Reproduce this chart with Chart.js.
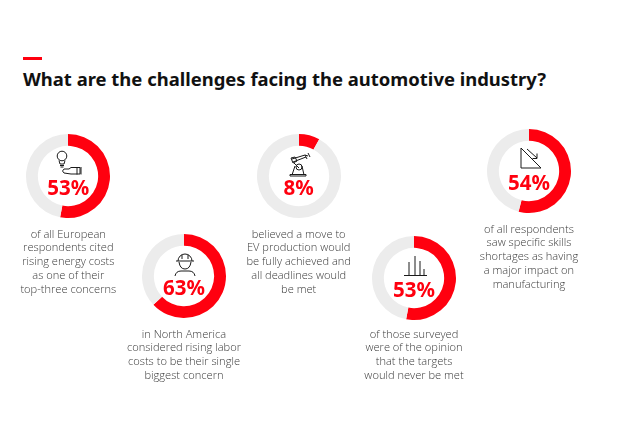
<!DOCTYPE html>
<html><head><meta charset="utf-8">
<script src="https://cdn.jsdelivr.net/npm/chart.js@4"></script>
<style>
html,body{margin:0;padding:0;background:#fff;width:639px;height:424px;overflow:hidden}
#bar{position:absolute;left:23px;top:57px;width:19px;height:3px;background:#ff000f}
#title{position:absolute;left:23px;top:66px;font:700 18.45px/26px "Noto Sans",sans-serif;color:#111;white-space:nowrap}
canvas{position:absolute}
.pct{position:absolute;width:84px;text-align:center;font:700 20.5px/24px "Noto Sans",sans-serif;color:#ff000f}
.cap{position:absolute;width:130px;text-align:center;font:300 11.1px/13.85px "Open Sans",sans-serif;color:#3a3a3a;white-space:nowrap}
svg{position:absolute;fill:none;stroke:#1a1a1a;stroke-width:1;overflow:visible}
</style></head><body>
<div id="bar"></div>
<div id="title">What are the challenges facing the automotive industry?</div>
<svg style="left:50px;top:148px" width="36" height="30"><circle cx="12" cy="8" r="4.8"/><path d="M9 12.5 L10 16 H14 L15 12.5 M10 17.5 H14 M10.5 19 H13.5"/><path d="M14 21 H19 L21 19.5 H30 V26 H21 L14 25 Q11 23 14 21 Z M27 19 V26.5 M31 19 V26.5"/></svg>
<svg style="left:172px;top:250px" width="26" height="28"><path d="M4 11 H22 M6 11 A7 7 0 0 1 20 11 M10 4.6 V9 M16 4.6 V9 M7 12 Q8 19 13 19 Q18 19 19 12 M3 26 Q4 21 9 21 H17 Q22 21 23 26"/></svg>
<svg style="left:288px;top:151px" width="24" height="28"><path d="M4 8 L17 4 L20 5 M5 11 L18 6 M17 4 L19 8 M20 2 L22 6 M3 7 L7 6 L9 10 L5 12 Z M6 12 L11 17 M4 24 L7 15 M14 15 L16 24 M2 25 H18 V23.5 H2 Z"/><circle cx="11" cy="16" r="3"/></svg>
<svg style="left:402px;top:253px" width="28" height="26"><path d="M2 22.5 H25 M13 3 V22 M7 9 V22 M18 8 V22 M22 16 V22" /></svg>
<svg style="left:518px;top:145px" width="28" height="26"><path d="M3 3 V23 H23 Z M9 4 L19 13 M19 8.5 V13.5 H14.5"/></svg>
<script>
const percentages=[53,63,8,53,54];
const remainders=[47,37,92,47,46];
const percentLabels=["53%","63%","8%","53%","54%"];
const captions=[
 ["of all European","respondents cited","rising energy costs","as one of their","top-three concerns"],
 ["in North America","considered rising labor","costs to be their single","biggest concern"],
 ["believed a move to","EV production would","be fully achieved and","all deadlines would","be met"],
 ["of those surveyed","were of the opinion","that the targets","would never be met"],
 ["of all respondents","saw specific skills","shortages as having","a major impact on","manufacturing"]
];
const centers=[[68.3,176],[184,275.7],[298.7,175.7],[414,277.7],[529,170.5]];
const pctY=[187,287,187,289,182];
const capTop=[226.5,326.5,226.5,326.5,221.5];
const SIZE=90;
percentages.forEach((v,i)=>{
  const [cx,cy]=centers[i];
  const c=document.createElement('canvas');
  c.width=SIZE;c.height=SIZE;
  c.style.left=(cx-SIZE/2)+'px';c.style.top=(cy-SIZE/2)+'px';
  c.style.width=SIZE+'px';c.style.height=SIZE+'px';
  document.body.appendChild(c);
  new Chart(c,{type:'doughnut',
    data:{labels:['Share','Rest'],datasets:[{data:[v,remainders[i]],backgroundColor:['#ff000f','#ececec'],borderWidth:0}]},
    options:{responsive:false,animation:false,radius:42,cutout:32.3,rotation:0,
      layout:{padding:0},plugins:{legend:{display:false},tooltip:{enabled:false}}}});
  const p=document.createElement('div');p.className='pct';p.textContent=percentLabels[i];
  p.style.left=(cx-42)+'px';p.style.top=(pctY[i]-12)+'px';document.body.appendChild(p);
  const t=document.createElement('div');t.className='cap';t.innerHTML=captions[i].join('<br>');
  t.style.left=(cx-65)+'px';t.style.top=capTop[i]+'px';document.body.appendChild(t);
});
</script>
</body></html>
